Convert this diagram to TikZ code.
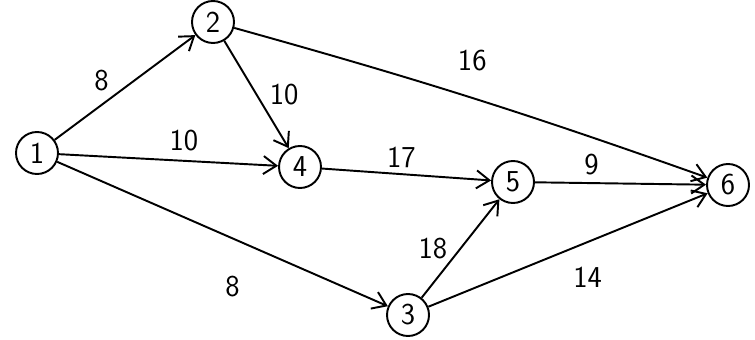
\documentclass[tikz,border=0pt]{standalone}
\usepackage{tikz}
\usetikzlibrary{arrows.meta,positioning}

\begin{document}
\begin{tikzpicture}[
    event/.style={circle,draw,line width=1.1pt,minimum size=0.84cm,inner sep=0pt,font=\sffamily\LARGE},
    wt/.style={font=\sffamily\LARGE,inner sep=1pt},
    arrow/.style={-{Straight Barb[length=2.6mm,width=3.6mm]},line width=1.1pt}
  ]
    \useasboundingbox (0,0) rectangle (15.1,6.78);
    \node[event] (e1) at (0.74,3.72)  {1};
    \node[event] (e2) at (4.26,6.34)  {2};
    \node[event] (e4) at (6.00,3.44)  {4};
    \node[event] (e5) at (10.26,3.14) {5};
    \node[event] (e6) at (14.56,3.08) {6};
    \node[event] (e3) at (8.16,0.48)  {3};
    \draw[arrow] (e1) -- node[wt,pos=0.42,above left=2pt]{8} (e2);
    \draw[arrow] (e1) -- node[wt,pos=0.57,above=4pt]{10} (e4);
    \draw[arrow] (e1) -- node[wt,pos=0.53,below=0.7cm]{8} (e3);
    \draw[arrow] (e2) -- node[wt,pos=0.5,right=6pt]{10} (e4);
    \draw[arrow] (e2) to[bend left=2] node[wt,pos=0.5,above=14pt]{16} (e6);
    \draw[arrow] (e4) -- node[wt,pos=0.47,above=2pt]{17} (e5);
    \draw[arrow] (e5) -- node[wt,pos=0.33,above=3pt]{9} (e6);
    \draw[arrow] (e3) -- node[wt,pos=0.5,left=6pt]{18} (e5);
    \draw[arrow] (e3) -- node[wt,pos=0.57,below=0.45cm]{14} (e6);
  \end{tikzpicture}
\end{document}
